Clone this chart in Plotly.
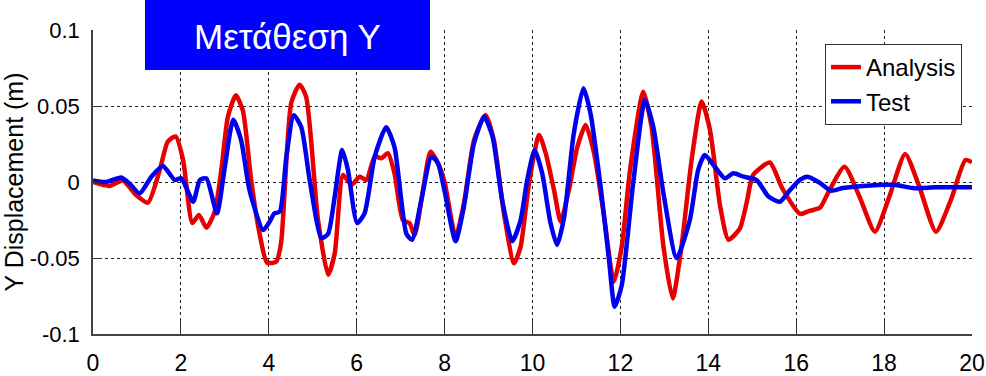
import plotly.graph_objects as go

# Time (s) and displacement (m) for the analysis trace
t_analysis = [0.0, 0.38, 0.68, 0.98, 1.25, 1.52, 1.70, 1.88, 2.05, 2.26, 2.41, 2.58, 2.77, 2.92,
              3.07, 3.25, 3.41, 3.60, 3.79, 3.96, 4.17, 4.28, 4.51, 4.70, 4.85, 5.12, 5.35, 5.50,
              5.69, 5.88, 6.07, 6.22, 6.41, 6.56, 6.71, 6.86, 7.05, 7.20, 7.32, 7.51, 7.68, 7.85,
              8.00, 8.25, 8.44, 8.67, 8.93, 9.12, 9.35, 9.58, 9.73, 9.92, 10.15, 10.30, 10.49,
              10.64, 10.83, 11.02, 11.21, 11.40, 11.63, 11.85, 12.03, 12.22, 12.52, 12.71, 12.98,
              13.19, 13.39, 13.62, 13.85, 14.04, 14.27, 14.46, 14.72, 14.87, 15.02, 15.40, 15.68,
              16.09, 16.30, 16.54, 16.72, 17.10, 17.44, 17.79, 18.12, 18.48, 18.80, 19.18, 19.52,
              19.85, 20.0]
y_analysis = [0.0, -0.0026, 0.001, -0.0086, -0.0136, 0.008, 0.0265, 0.030, 0.0145, -0.027, -0.0217,
              -0.030, -0.0195, 0.008, 0.043, 0.057, 0.047, 0.001, -0.034, -0.053, -0.0524, -0.040,
              0.052, 0.064, 0.056, -0.025, -0.061, -0.047, 0.0046, -0.002, 0.0035, 0.0013, 0.0167,
              0.0156, 0.019, 0.0057, -0.025, -0.027, -0.035, -0.005, 0.020, 0.0123, 0.0, -0.036,
              -0.014, 0.0276, 0.044, 0.0276, -0.0206, -0.0535, -0.0425, -0.001, 0.031, 0.019,
              -0.0053, -0.026, -0.005, 0.023, 0.0375, 0.019, -0.023, -0.0656, -0.0425, 0.008,
              0.0594, 0.036, -0.0425, -0.0766, -0.0425, 0.0145, 0.053, 0.034, -0.016, -0.038,
              -0.0305, -0.014, 0.0046, 0.0128, -0.004, -0.021, -0.019, -0.017, -0.0075, 0.010,
              -0.0096, -0.0327, -0.0096, 0.0185, -0.003, -0.0327, -0.0118, 0.0145, 0.013]

# Time (s) and displacement (m) for the measured test trace
t_test = [0.0, 0.30, 0.64, 0.83, 1.06, 1.33, 1.59, 1.86, 2.01, 2.28, 2.43, 2.58, 2.82, 3.00, 3.19,
          3.37, 3.56, 3.87, 4.00, 4.13, 4.25, 4.40, 4.57, 4.74, 4.93, 5.20, 5.35, 5.50, 5.67, 5.80,
          6.01, 6.18, 6.41, 6.67, 6.86, 7.13, 7.26, 7.47, 7.70, 7.85, 8.00, 8.25, 8.44, 8.67, 8.90,
          9.09, 9.31, 9.54, 9.73, 9.88, 10.05, 10.22, 10.41, 10.56, 10.72, 10.94, 11.16, 11.32,
          11.55, 11.74, 11.87, 12.03, 12.29, 12.56, 12.75, 12.98, 13.28, 13.58, 13.77, 13.92,
          14.15, 14.38, 14.57, 14.80, 15.10, 15.37, 15.63, 15.86, 16.09, 16.26, 16.53, 16.79,
          17.06, 17.51, 18.27, 18.65, 19.18, 20.0]
y_test = [0.001, 0.0, 0.003, -0.001, -0.0075, 0.0035, 0.0105, 0.0013, 0.0024, -0.013, 0.0013,
          0.0024, -0.0206, 0.010, 0.041, 0.0276, -0.0053, -0.0316, -0.027, -0.0206, -0.0195,
          0.0167, 0.044, 0.036, 0.0013, -0.037, -0.034, -0.0096, 0.021, 0.008, -0.027, -0.0206,
          0.0167, 0.036, 0.023, -0.034, -0.038, -0.012, 0.0167, 0.0123, -0.006, -0.039, -0.016,
          0.0255, 0.043, 0.030, -0.012, -0.039, -0.025, 0.0013, 0.021, 0.0057, -0.027, -0.0414,
          -0.023, 0.032, 0.0616, 0.045, -0.003, -0.051, -0.082, -0.068, -0.001, 0.054, 0.036,
          -0.0075, -0.050, -0.025, 0.008, 0.0178, 0.010, 0.0024, 0.0057, 0.0035, 0.0013, -0.0096,
          -0.013, -0.0053, 0.0015, 0.0035, -0.0004, -0.0057, -0.004, -0.0026, -0.002, -0.004,
          -0.0035, -0.0035]

x_ticks = [0, 2, 4, 6, 8, 10, 12, 14, 16, 18, 20]
y_ticks = [-0.1, -0.05, 0, 0.05, 0.1]
y_tick_text = ["-0.1", "-0.05", "0", "0.05", "0.1"]

sans = "Liberation Sans, Arial, sans-serif"

fig = go.Figure()
fig.add_trace(go.Scatter(x=t_analysis, y=y_analysis, name="Analysis", mode="lines",
                         line=dict(color="#e80000", width=4.5, shape="spline", smoothing=0.6)))
fig.add_trace(go.Scatter(x=t_test, y=y_test, name="Test", mode="lines",
                         line=dict(color="#0000ee", width=4.5, shape="spline", smoothing=0.6)))

fig.update_layout(
    width=986, height=376,
    margin=dict(l=93, r=14, t=30, b=42),
    paper_bgcolor="white", plot_bgcolor="white",
    font=dict(family=sans, size=22, color="black"),
    legend=dict(x=0.9886, y=0.954, xanchor="right", yanchor="top",
                bgcolor="white", bordercolor="#333333", borderwidth=1,
                font=dict(family=sans, size=24), tracegroupgap=0),
    xaxis=dict(range=[0, 20.0001], tickvals=x_ticks, ticks="inside", ticklen=15, tickwidth=1,
               tickcolor="#333333", showline=True, linecolor="#444444", linewidth=1.5,
               mirror=False, showgrid=True, gridcolor="#222222", griddash="dot", gridwidth=1,
               zeroline=False, tickfont=dict(family=sans, size=23), ticklabelstandoff=8,
               automargin=False),
    yaxis=dict(range=[-0.1, 0.1], tickvals=y_ticks, ticktext=y_tick_text, ticks="inside",
               ticklen=8, tickwidth=1, tickcolor="#333333", showline=True,
               linecolor="#444444", linewidth=1.5, mirror=False, showgrid=True,
               gridcolor="#222222", griddash="dot", gridwidth=1, zeroline=False,
               tickfont=dict(family=sans, size=22), ticklabelstandoff=7, automargin=False,
               title=dict(text="Y Displacement (m)", font=dict(family=sans, size=25),
                          standoff=8)),
)

# Blue title banner overlapping the top of the plot
fig.add_shape(type="rect", xref="paper", yref="paper",
              x0=(145 - 93) / 879, x1=(430 - 93) / 879,
              y0=(334 - 70) / 304, y1=1.0 + 30 / 304 + 0.01,
              fillcolor="#0000ff", line=dict(width=0), layer="above")
fig.add_annotation(text="Μετάθεση Υ", xref="paper", yref="paper",
                   x=(287 - 93) / 879, y=(334 - 36) / 304, xanchor="center", yanchor="middle",
                   showarrow=False, font=dict(family=sans, size=35, color="white"))

fig.write_html("out.html")
